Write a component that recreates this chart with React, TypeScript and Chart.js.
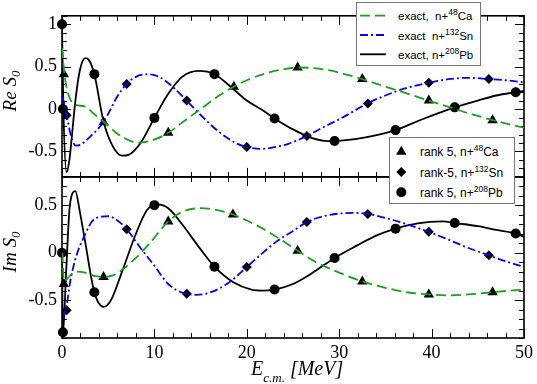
import React, { useEffect, useRef } from "react";
import { Chart, registerables } from "chart.js";

Chart.register(...registerables);

type P = [number, number];

// ---- exact curves, Re S0 ----
const reCaExact: P[] = [[0,0.72],[0.3,0.38],[0.7,0.17],[1.3,0.06],[2.5,0.03],[3.5,-0.06],[4.5,-0.15],[6,-0.29],[7.5,-0.38],[8.5,-0.395],[10,-0.36],[11.5,-0.28],[13,-0.16],[15,0.0],[17,0.16],[18.6,0.265],[20,0.34],[22,0.42],[24,0.47],[25.5,0.49],[27,0.485],[29,0.455],[31,0.4],[32.5,0.354],[34,0.3],[36,0.23],[38,0.16],[39.7,0.1],[42,0.02],[44,-0.05],[46.6,-0.13],[48,-0.17],[50,-0.22]];
const reSnExact: P[] = [[0.05,0.15],[0.5,-0.07],[1,-0.33],[1.5,-0.43],[2,-0.42],[3,-0.33],[4.5,-0.15],[6,0.15],[7,0.3],[8,0.38],[9.2,0.41],[10.5,0.38],[12,0.26],[13.5,0.1],[15,-0.07],[17,-0.27],[19,-0.41],[20,-0.447],[21.5,-0.47],[23,-0.45],[24.5,-0.41],[26.5,-0.318],[28,-0.23],[30,-0.12],[31.5,-0.03],[33,0.066],[35,0.16],[37,0.24],[39.7,0.311],[42,0.355],[44,0.369],[46.2,0.354],[48,0.34],[50,0.315]];
const rePbExact: P[] = [[0,1],[0.15,0.0],[0.5,-0.745],[0.8,-0.6],[1.05,-0.34],[1.4,0.05],[1.9,0.44],[2.5,0.6],[2.9,0.58],[3.5,0.41],[4.5,-0.15],[5.5,-0.44],[6.5,-0.55],[7.2,-0.54],[8.5,-0.4],[10,-0.104],[11.5,0.18],[13,0.38],[14.8,0.45],[16.5,0.41],[18.5,0.24],[20,0.1],[21.5,0.0],[23,-0.11],[25,-0.24],[27,-0.34],[28.8,-0.377],[30.5,-0.37],[33,-0.33],[36.1,-0.248],[39,-0.12],[42.5,0.02],[45,0.1],[47,0.16],[49.1,0.199],[50,0.214]];

// ---- exact curves, Im S0 ----
const imCaExact: P[] = [[0.05,0.0],[0.2,-0.3],[0.6,-0.27],[1.4,-0.2],[2.5,-0.21],[3.5,-0.245],[4.5,-0.255],[5.5,-0.24],[6.5,-0.18],[8,-0.055],[9.5,0.1],[11.5,0.33],[13,0.43],[15,0.47],[16.5,0.455],[18.5,0.403],[20,0.34],[22,0.24],[23.5,0.15],[25.5,0.021],[27.5,-0.1],[30,-0.21],[32.5,-0.303],[35,-0.37],[37.5,-0.42],[39.7,-0.44],[41.5,-0.45],[44,-0.44],[46.6,-0.417],[48.5,-0.4],[50,-0.389]];
const imSnExact: P[] = [[0.15,-0.69],[0.5,-0.56],[0.9,-0.3],[1.5,-0.05],[2.3,0.15],[3.5,0.355],[5,0.385],[6,0.34],[7,0.248],[8.5,0.05],[9.9,-0.124],[11.5,-0.33],[13,-0.42],[14.5,-0.444],[16,-0.42],[18,-0.32],[20,-0.151],[21.5,-0.02],[23.2,0.117],[25,0.23],[26.5,0.323],[28.5,0.39],[31.5,0.42],[33.1,0.409],[36,0.34],[39.7,0.22],[42,0.13],[44,0.05],[46.2,-0.028],[48,-0.09],[50,-0.15]];
const imPbExact: P[] = [[0,0],[0.1,-0.86],[0.45,-0.2],[0.85,0.5],[1.45,0.65],[1.9,0.45],[2.5,0.12],[3.5,-0.417],[4.5,-0.571],[5.3,-0.5],[6.5,-0.2],[8,0.2],[9.2,0.45],[10.3,0.51],[11.5,0.47],[13,0.3],[14.9,0.048],[16.5,-0.148],[18.5,-0.31],[20.5,-0.39],[21.8,-0.4],[23,-0.389],[25,-0.33],[27,-0.22],[29.5,-0.055],[32,0.08],[34,0.18],[36.1,0.254],[38.5,0.31],[41.2,0.33],[42.5,0.313],[45,0.28],[47,0.24],[49.1,0.202],[50,0.168]];

// ---- rank-5 points ----
const reCaRank: P[] = [[0.2,0.41],[4.5,-0.155],[11.5,-0.279],[18.6,0.264],[25.5,0.49],[32.5,0.354],[39.7,0.101],[46.6,-0.132]];
const reSnRank: P[] = [[0.5,-0.074],[7,0.296],[13.5,0.101],[20,-0.447],[26.5,-0.318],[33.1,0.066],[39.7,0.311],[46.2,0.354]];
const rePbRank: P[] = [[0,1],[0.1,0.0],[3.5,0.412],[10,-0.104],[16.5,0.412],[23,-0.112],[29.5,-0.376],[36.1,-0.248],[42.5,0.02],[49.1,0.199]];
const imCaRank: P[] = [[0.2,-0.33],[4.5,-0.255],[11.5,0.33],[18.5,0.403],[25.5,0.021],[32.5,-0.303],[39.7,-0.44],[46.6,-0.417]];
const imSnRank: P[] = [[0.5,-0.606],[7,0.248],[13.5,-0.433],[20,-0.151],[26.5,0.323],[33.1,0.409],[39.7,0.22],[46.2,-0.028]];
const imPbRank: P[] = [[0,0],[0.1,-0.84],[3.5,-0.417],[10,0.502],[16.5,-0.148],[23,-0.389],[29.5,-0.055],[36.1,0.254],[42.5,0.313],[49.1,0.202]];

const xTickLabels = [0, 10, 20, 30, 40, 50];
const exactLabels = ["exact,  n+", "exact  n+", "exact, n+"];
const rankLabels = ["rank 5, n+", "rank-5, n+", "rank 5, n+"];
const isotopeMass = ["48", "132", "208"];
const isotopeName = ["Ca", "Sn", "Pb"];

const GREEN = "#1e9e1e";
const BLUE = "#0000ff";
const BLACK = "#000000";
const SERIF = "Liberation Serif, serif";
const SANS = "Liberation Sans, Arial, sans-serif";

const xy = (a: P[]) => a.map(([x, y]) => ({ x, y }));

const framePlugin = {
  id: "frameTicks",
  beforeDatasetsDraw(chart: any) {
    const { ctx, chartArea, scales } = chart;
    const xs = scales.x;
    const L = chartArea.left;
    const R = chartArea.right;
    ctx.save();
    ctx.strokeStyle = "#000";
    for (const id of ["yTop", "yBot"]) {
      const s = scales[id];
      const top = s.top;
      const bot = s.bottom;
      ctx.lineWidth = 1;
      ctx.beginPath();
      for (let k = 0; k <= 25; k++) {
        const v = k * 2;
        const px = Math.round(xs.getPixelForValue(v)) + 0.5;
        const len = k % 5 === 0 ? 9 : 5;
        ctx.moveTo(px, top);
        ctx.lineTo(px, top + len);
        ctx.moveTo(px, bot);
        ctx.lineTo(px, bot - len);
      }
      const start = Math.ceil(s.min * 10 - 1e-6);
      const end = Math.floor(s.max * 10 + 1e-6);
      for (let k = start; k <= end; k++) {
        const py = Math.round(s.getPixelForValue(k / 10)) + 0.5;
        const len = k % 5 === 0 ? 9 : 5;
        ctx.moveTo(L, py);
        ctx.lineTo(L + len, py);
        ctx.moveTo(R, py);
        ctx.lineTo(R - len, py);
      }
      ctx.stroke();
      ctx.lineWidth = 1.6;
      ctx.strokeRect(L, top, R - L, bot - top);
    }
    ctx.restore();
  },
};

function lineDs(data: P[], color: string, dash: number[], yAxisID: string) {
  return {
    type: "line" as const,
    data: xy(data),
    borderColor: color,
    borderWidth: 1.8,
    borderDash: dash,
    pointRadius: 0,
    fill: false,
    cubicInterpolationMode: "monotone" as const,
    yAxisID,
  };
}

function pointDs(data: P[], style: string, radius: number, yAxisID: string) {
  return {
    type: "scatter" as const,
    data: xy(data),
    showLine: false,
    pointStyle: style,
    pointRadius: radius,
    backgroundColor: BLACK,
    borderColor: BLACK,
    borderWidth: 0,
    clip: false as const,
    yAxisID,
  };
}

function tickFont() {
  return { family: SERIF, size: 18 };
}

export default function App() {
  const ref = useRef<HTMLCanvasElement | null>(null);

  useEffect(() => {
    if (!ref.current) return;
    const chart = new Chart(ref.current, {
      type: "line",
      data: {
        datasets: [
          lineDs(reCaExact, GREEN, [10, 5], "yTop"),
          lineDs(reSnExact, BLUE, [8, 3, 2, 3], "yTop"),
          lineDs(rePbExact, BLACK, [], "yTop"),
          lineDs(imCaExact, GREEN, [10, 5], "yBot"),
          lineDs(imSnExact, BLUE, [8, 3, 2, 3], "yBot"),
          lineDs(imPbExact, BLACK, [], "yBot"),
          pointDs(reCaRank, "triangle", 6, "yTop"),
          pointDs(reSnRank, "rectRot", 5, "yTop"),
          pointDs(rePbRank, "circle", 5, "yTop"),
          pointDs(imCaRank, "triangle", 6, "yBot"),
          pointDs(imSnRank, "rectRot", 5, "yBot"),
          pointDs(imPbRank, "circle", 5, "yBot"),
        ] as any,
      },
      options: {
        responsive: false,
        maintainAspectRatio: false,
        animation: false,
        devicePixelRatio: 1,
        layout: { padding: { top: 10, right: 12, left: 0, bottom: 0 } },
        plugins: { legend: { display: false }, tooltip: { enabled: false } },
        scales: {
          x: {
            type: "linear",
            position: "bottom",
            min: 0,
            max: 50,
            grid: { display: false, drawTicks: false },
            border: { display: false },
            afterBuildTicks: (s: any) => {
              s.ticks = xTickLabels.map((v) => ({ value: v }));
            },
            ticks: {
              font: tickFont(),
              color: "#000",
              padding: 4,
              maxRotation: 0,
              autoSkip: false,
              callback: (v: any) => String(v),
            },
            afterFit: (s: any) => {
              s.height = 46;
            },
          },
          yTop: {
            type: "linear",
            position: "left",
            stack: "panels",
            stackWeight: 1,
            weight: 2,
            min: -0.8,
            max: 1.1,
            grid: { display: false, drawTicks: false },
            border: { display: false },
            ticks: {
              stepSize: 0.5,
              includeBounds: false,
              font: tickFont(),
              color: "#000",
              padding: 5,
              callback: (v: any) => String(v),
            },
            afterFit: (s: any) => {
              s.width = 62;
            },
          },
          yBot: {
            type: "linear",
            position: "left",
            stack: "panels",
            stackWeight: 1,
            weight: 1,
            min: -0.9,
            max: 0.8,
            grid: { display: false, drawTicks: false },
            border: { display: false },
            ticks: {
              stepSize: 0.5,
              includeBounds: false,
              font: tickFont(),
              color: "#000",
              padding: 5,
              callback: (v: any) => String(v),
            },
            afterFit: (s: any) => {
              s.width = 62;
            },
          },
        } as any,
      },
      plugins: [framePlugin],
    });
    return () => chart.destroy();
  }, []);

  const legend1Rows = [15.7, 35, 54.3];
  const legend2Rows = [151.7, 172, 192.3];
  const lineStyles = [
    { color: GREEN, dash: "10 5" },
    { color: BLUE, dash: "8 3 2 3" },
    { color: BLACK, dash: "" },
  ];

  const marker = (i: number, cx: number, cy: number) => {
    if (i === 0) {
      const r = 6;
      const h = r * Math.sin(Math.PI / 3);
      return <polygon points={`${cx},${cy - r} ${cx + h},${cy + r / 2} ${cx - h},${cy + r / 2}`} fill="#000" />;
    }
    if (i === 1) {
      const r = 5;
      return <polygon points={`${cx},${cy - r} ${cx + r},${cy} ${cx},${cy + r} ${cx - r},${cy}`} fill="#000" />;
    }
    return <circle cx={cx} cy={cy} r={5} fill="#000" />;
  };

  return (
    <div style={{ position: "absolute", left: 0, top: 0, width: 537, height: 384, background: "#fff" }}>
      <canvas ref={ref} width={537} height={384} style={{ position: "absolute", left: 0, top: 0, width: 537, height: 384 }} />
      <svg width={537} height={384} style={{ position: "absolute", left: 0, top: 0, pointerEvents: "none" }}>
        {/* legend 1 */}
        <rect x={356.5} y={2.5} width={124} height={63} fill="#fff" stroke="#777" strokeWidth={1} />
        {legend1Rows.map((cy, i) => (
          <g key={"l1" + i}>
            <line x1={360} y1={cy} x2={386} y2={cy} stroke={lineStyles[i].color} strokeWidth={1.8} strokeDasharray={lineStyles[i].dash || undefined} />
            <text x={398} y={cy + 4.5} fontFamily={SANS} fontSize={11.5} fill="#000" style={{ whiteSpace: "pre" }}>
              {exactLabels[i]}
              <tspan dy={-5} fontSize={8.5}>{isotopeMass[i]}</tspan>
              <tspan dy={5}>{isotopeName[i]}</tspan>
            </text>
          </g>
        ))}
        {/* legend 2 */}
        <rect x={389.5} y={137.5} width={125} height={66} fill="#fff" stroke="#777" strokeWidth={1} />
        {legend2Rows.map((cy, i) => (
          <g key={"l2" + i}>
            {marker(i, 401.3, cy)}
            <text x={420} y={cy + 4.5} fontFamily={SANS} fontSize={12} fill="#000" style={{ whiteSpace: "pre" }}>
              {rankLabels[i]}
              <tspan dy={-5} fontSize={8.5}>{isotopeMass[i]}</tspan>
              <tspan dy={5}>{isotopeName[i]}</tspan>
            </text>
          </g>
        ))}
        {/* axis titles */}
        <text transform="translate(16,91) rotate(-90)" textAnchor="middle" fontFamily={SERIF} fontStyle="italic" fontSize={19} fill="#000" style={{ whiteSpace: "pre" }}>
          Re S<tspan fontSize={13} dy={4}>0</tspan>
        </text>
        <text transform="translate(16,252) rotate(-90)" textAnchor="middle" fontFamily={SERIF} fontStyle="italic" fontSize={19} fill="#000" style={{ whiteSpace: "pre" }}>
          Im S<tspan fontSize={13} dy={4}>0</tspan>
        </text>
        <text x={251} y={375} fontFamily={SERIF} fontStyle="italic" fontSize={20} fill="#000" style={{ whiteSpace: "pre" }}>
          E<tspan fontSize={13} dy={7}>c.m.</tspan>
          <tspan dy={-7}> [MeV]</tspan>
        </text>
      </svg>
    </div>
  );
}
